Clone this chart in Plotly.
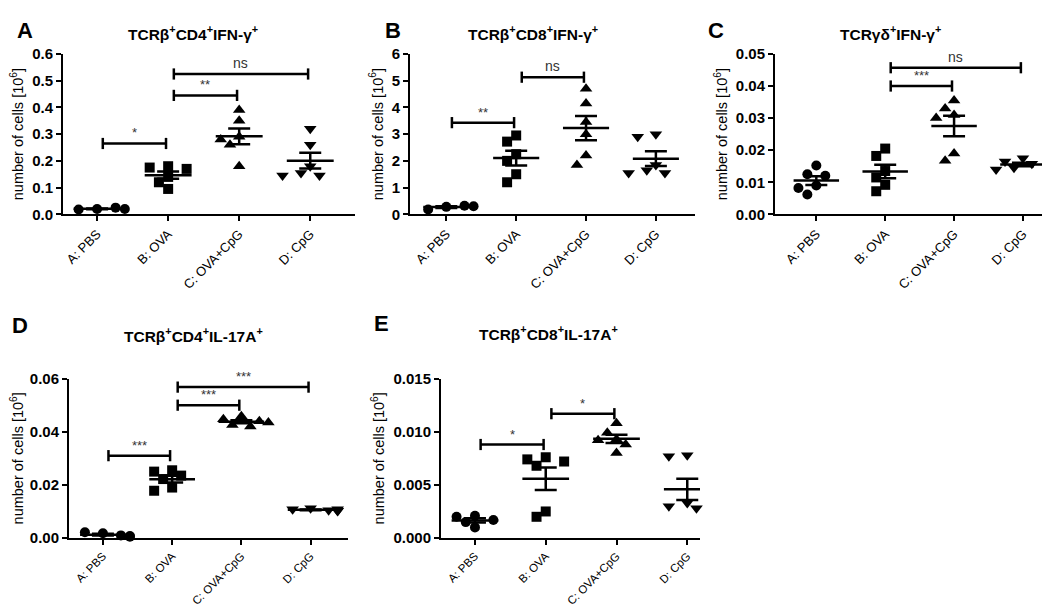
import numpy as np
import plotly.graph_objects as go

groups = ["A: PBS", "B: OVA", "C: OVA+CpG", "D: CpG"]

# panel A  TCRb+CD4+IFN-g+
a_pbs = [0.020, 0.018, 0.025, 0.020]
a_ova = [0.180, 0.175, 0.170, 0.140, 0.120, 0.095]
a_ovacpg = [0.390, 0.350, 0.290, 0.280, 0.260, 0.180]
a_cpg = [0.320, 0.260, 0.180, 0.155, 0.145, 0.145]
a_stats = [(0, 1, 0.265, "*"), (1, 2, 0.445, "**"), (1, 3, 0.525, "ns")]

# panel B  TCRb+CD8+IFN-g+
b_pbs = [0.28, 0.18, 0.32, 0.30]
b_ova = [2.95, 2.72, 2.25, 2.00, 1.50, 1.20]
b_ovacpg = [4.70, 4.15, 3.45, 3.00, 2.20, 1.85]
b_cpg = [3.00, 2.90, 1.85, 1.65, 1.55, 1.55]
b_stats = [(0, 1, 3.43, "**"), (1, 2, 5.13, "ns")]

# panel C  TCRgd+IFN-g+
c_pbs = [0.0152, 0.0125, 0.0120, 0.0090, 0.0082, 0.0062]
c_ova = [0.0205, 0.0182, 0.0135, 0.0115, 0.0092, 0.0072]
c_ovacpg = [0.0355, 0.0330, 0.0310, 0.0300, 0.0190, 0.0167]
c_cpg = [0.0175, 0.0165, 0.0158, 0.0150, 0.0145, 0.0140]
c_stats = [(1, 2, 0.0400, "***"), (1, 3, 0.0457, "ns")]

# panel D  TCRb+CD4+IL-17A+
d_pbs = [0.0018, 0.0022, 0.0010, 0.0008, 0.0005]
d_ova = [0.0255, 0.0250, 0.0235, 0.0222, 0.0190, 0.0178]
d_ovacpg = [0.0458, 0.0447, 0.0440, 0.0435, 0.0425, 0.0420]
d_cpg = [0.0112, 0.0108, 0.0105, 0.0103, 0.0102, 0.0108]
d_stats = [(0, 1, 0.0310, "***"), (1, 2, 0.0500, "***"), (1, 3, 0.0568, "***")]

# panel E  TCRb+CD8+IL-17A+
e_pbs = [0.0021, 0.0020, 0.0017, 0.0015, 0.0010]
e_ova = [0.0076, 0.0074, 0.0072, 0.0068, 0.0025, 0.0020]
e_ovacpg = [0.0108, 0.0099, 0.0093, 0.0092, 0.0088, 0.0080]
e_cpg = [0.0078, 0.0077, 0.0033, 0.0030, 0.0028, 0.0029]
e_stats = [(0, 1, 0.0088, "*"), (1, 2, 0.0117, "*")]

titles = ["TCRβ<sup>+</sup>CD4<sup>+</sup>IFN-γ<sup>+</sup>",
          "TCRβ<sup>+</sup>CD8<sup>+</sup>IFN-γ<sup>+</sup>",
          "TCRγδ<sup>+</sup>IFN-γ<sup>+</sup>",
          "TCRβ<sup>+</sup>CD4<sup>+</sup>IL-17A<sup>+</sup>",
          "TCRβ<sup>+</sup>CD8<sup>+</sup>IL-17A<sup>+</sup>"]
letters = ["A", "B", "C", "D", "E"]

FONT = "Arial, Liberation Sans, sans-serif"
W, H = 1050, 609
symbols = ["circle", "square", "triangle-up", "triangle-down"]

panels = [
    dict(data=[a_pbs, a_ova, a_ovacpg, a_cpg], stats=a_stats, ymax=0.6, dtick=0.1, fmt=".1f",
         px=(55, 347), py=(38, 203), xr=(-0.48, 3.63), lx=17, ly=14, tx=185, ty=16, xf=13),
    dict(data=[b_pbs, b_ova, b_ovacpg, b_cpg], stats=b_stats, ymax=6, dtick=1, fmt="d",
         px=(402, 687), py=(38, 203), xr=(-0.52, 3.56), lx=385, ly=14, tx=525, ty=16, xf=13),
    dict(data=[c_pbs, c_ova, c_ovacpg, c_cpg], stats=c_stats, ymax=0.05, dtick=0.01, fmt=".2f",
         px=(767, 1048), py=(38, 203), xr=(-0.6, 3.48), lx=708, ly=14, tx=882, ty=16, xf=13),
    dict(data=[d_pbs, d_ova, d_ovacpg, d_cpg], stats=d_stats, ymax=0.06, dtick=0.02, fmt=".2f",
         px=(61, 340), py=(372, 536), xr=(-0.49, 3.54), lx=12, ly=317, tx=185, ty=327, xf=11.5),
    dict(data=[e_pbs, e_ova, e_ovacpg, e_cpg], stats=e_stats, ymax=0.015, dtick=0.005, fmt=".3f",
         px=(433, 692), py=(372, 536), xr=(-0.48, 3.18), lx=373, ly=315, tx=540, ty=325, xf=11.5),
]


def swarm(vals, ymax, h_px, step_px):
    # simple beeswarm so markers do not sit on top of each other
    cands = [0, -0.13, 0.13, -0.26, 0.26, -0.39, 0.39]
    placed = []
    offs = []
    for v in vals:
        yp = v / ymax * h_px
        best = cands[-1]
        for c in cands:
            xp = c * step_px
            if all((xp - a) ** 2 + (yp - b) ** 2 >= 10.5 ** 2 for a, b in placed):
                best = c
                break
        placed.append((best * step_px, yp))
        offs.append(best)
    return offs


fig = go.Figure()
layout = dict(width=W, height=H, margin=dict(l=0, r=0, t=0, b=0),
              paper_bgcolor="white", plot_bgcolor="white", showlegend=False,
              font=dict(family=FONT, color="black"))
annotations = []

for i, p in enumerate(panels):
    n = "" if i == 0 else str(i + 1)
    xa, ya = "x" + n, "y" + n
    x0, x1 = p["px"]
    ytop, ybot = p["py"]
    h_px = ybot - ytop
    step_px = (x1 - x0) / (p["xr"][1] - p["xr"][0])

    layout["xaxis" + n] = dict(domain=[x0 / W, x1 / W], anchor=ya, range=list(p["xr"]),
                               tickvals=[0, 1, 2, 3], ticktext=groups, tickangle=-45,
                               showline=True, linecolor="black", linewidth=2,
                               ticks="outside", ticklen=5, tickwidth=2, tickcolor="black",
                               showgrid=False, zeroline=False,
                               tickfont=dict(size=p["xf"], family=FONT))
    layout["yaxis" + n] = dict(domain=[1 - ybot / H, 1 - ytop / H], anchor=xa,
                               range=[0, p["ymax"]], dtick=p["dtick"], tick0=0,
                               tickformat=p["fmt"],
                               showline=True, linecolor="black", linewidth=2,
                               ticks="outside", ticklen=5, tickwidth=2, tickcolor="black",
                               showgrid=False, zeroline=False,
                               tickfont=dict(size=15, family=FONT, weight="bold"),
                               title=dict(text="number of cells [10<sup>6</sup>]",
                                          font=dict(size=14.5, family=FONT), standoff=5))

    for g, vals in enumerate(p["data"]):
        offs = swarm(vals, p["ymax"], h_px, step_px)
        fig.add_trace(go.Scatter(
            x=[g + o for o in offs], y=vals, mode="markers", xaxis=xa, yaxis=ya,
            marker=dict(symbol=symbols[g], color="black",
                        size=10 if g < 2 else 11, line=dict(width=0)),
            cliponaxis=False))
        m = float(np.mean(vals))
        sem = float(np.std(vals, ddof=1) / np.sqrt(len(vals)))
        fig.add_trace(go.Scatter(
            x=[g - 0.33, g + 0.33], y=[m, m], mode="lines", xaxis=xa, yaxis=ya,
            line=dict(color="black", width=2.5), cliponaxis=False))
        fig.add_trace(go.Scatter(
            x=[g], y=[m], mode="markers", xaxis=xa, yaxis=ya,
            marker=dict(size=1, color="black"),
            error_y=dict(type="constant", value=sem, color="black",
                         thickness=2.5, width=11)))

    for a, b, yv, lab in p["stats"]:
        fig.add_trace(go.Scatter(
            x=[a + 0.08, b - 0.03], y=[yv, yv], mode="lines+markers", xaxis=xa, yaxis=ya,
            line=dict(color="black", width=2.5),
            marker=dict(symbol="line-ns", size=8, line=dict(width=2.5, color="black")),
            cliponaxis=False))
        annotations.append(dict(x=(a + 0.08 + b - 0.03) / 2, y=yv, xref=xa, yref=ya,
                                text=lab, showarrow=False, yanchor="bottom", yshift=1,
                                font=dict(size=14 if lab == "ns" else 13,
                                          family=FONT, color="#333333")))

    annotations.append(dict(x=p["lx"] / W, y=1 - p["ly"] / H, xref="paper", yref="paper",
                            text="<b>" + letters[i] + "</b>", showarrow=False,
                            xanchor="center", yanchor="middle",
                            font=dict(size=22, family=FONT)))
    annotations.append(dict(x=p["tx"] / W, y=1 - p["ty"] / H, xref="paper", yref="paper",
                            text="<b>" + titles[i] + "</b>", showarrow=False,
                            xanchor="center", yanchor="middle",
                            font=dict(size=15.5, family=FONT)))

layout["annotations"] = annotations
fig.update_layout(**layout)

fig.write_html("out.html")
